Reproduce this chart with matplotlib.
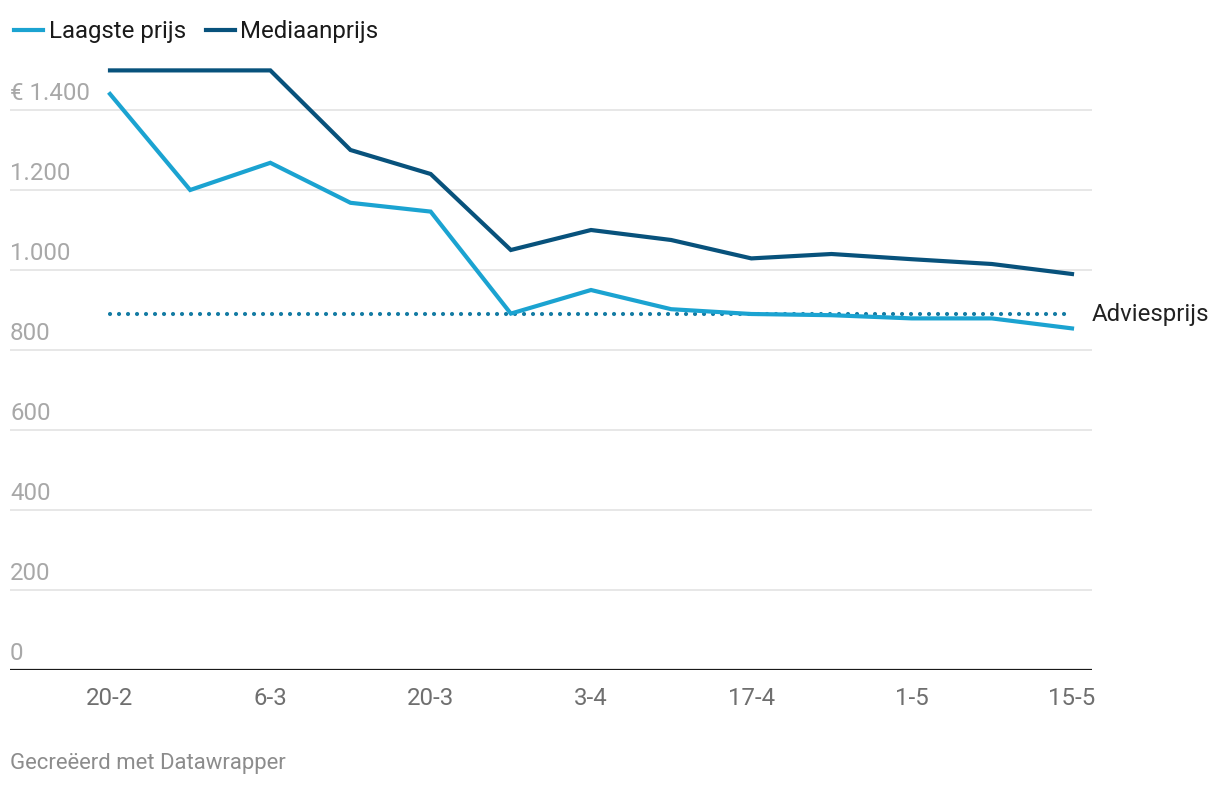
import matplotlib.pyplot as plt
import matplotlib.transforms as mtransforms

plt.rcParams['font.family'] = ['Roboto', 'DejaVu Sans']

# Data
dates = ['20-2', '27-2', '6-3', '13-3', '20-3', '27-3', '3-4',
         '10-4', '17-4', '24-4', '1-5', '8-5', '15-5']
laagste = [1440, 1200, 1268, 1168, 1146, 891, 950, 902, 890, 887, 879, 879, 854]
mediaan = [1499, 1499, 1499, 1300, 1240, 1050, 1100, 1075, 1029, 1040, 1027, 1015, 990]
adviesprijs = 889
yticks = [0, 200, 400, 600, 800, 1000, 1200, 1400]
ytick_labels = ['0', '200', '400', '600', '800', '1.000', '1.200', '€ 1.400']

LIGHT = '#1ba3d1'
DARK = '#08527c'
DOTS = '#137ba3'
FS = 17.3

W, H = 1220, 786
fig = plt.figure(figsize=(W / 100, H / 100), dpi=100)
# axes in pixel terms: x 10..1092, y baseline at 670
ax = fig.add_axes([10 / W, (H - 670) / H, 1082 / W, 620 / H])

x = list(range(len(dates)))
ax.plot(x, laagste, color=LIGHT, lw=3, solid_joinstyle='miter', label='Laagste prijs', zorder=3)
ax.plot(x, mediaan, color=DARK, lw=3, solid_joinstyle='miter', label='Mediaanprijs', zorder=3)
ax.plot([x[0], x[-1]], [adviesprijs, adviesprijs], color=DOTS, lw=3,
        linestyle=(0, (0.01, 2.15)), dash_capstyle='round', zorder=2)
ax.text(1.0, adviesprijs, 'Adviesprijs', transform=mtransforms.blended_transform_factory(ax.transAxes, ax.transData),
        fontsize=FS, color='#222222', va='center', ha='left', clip_on=False)

step = 962 / 12
ax.set_xlim(-100 / step, 12 + 20 / step)
ax.set_ylim(0, 1550)

for s in ax.spines.values():
    s.set_visible(False)
ax.axhline(0, color='#1a1a1a', lw=1.6, zorder=4)
for v in yticks[1:]:
    ax.axhline(v, color='#e3e3e3', lw=1.2, zorder=1)

ax.set_yticks([])
trans = mtransforms.blended_transform_factory(ax.transAxes, ax.transData)
for v, lab in zip(yticks, ytick_labels):
    ax.text(0, v + 12, lab, transform=trans, fontsize=FS, color='#a8a8a8',
            va='bottom', ha='left')

ax.set_xticks(x[::2])
ax.set_xticklabels(dates[::2])
ax.tick_params(axis='x', length=0, pad=12, labelsize=FS, labelcolor='#6f6f6f')

leg = ax.legend(loc='upper left', bbox_to_anchor=(0, 1 - 6 / H), bbox_transform=fig.transFigure,
                ncol=2, frameon=False, fontsize=FS, handlelength=1.2,
                handletextpad=0.22, columnspacing=0.85, borderaxespad=0.6,
                borderpad=0, labelcolor='#1a1a1a')

fig.text(10 / W, 1 - 763 / H, 'Gecreëerd met Datawrapper', fontsize=15.9,
         color='#8c8c8c', va='center', ha='left')

fig.savefig('out.png', dpi=100)
